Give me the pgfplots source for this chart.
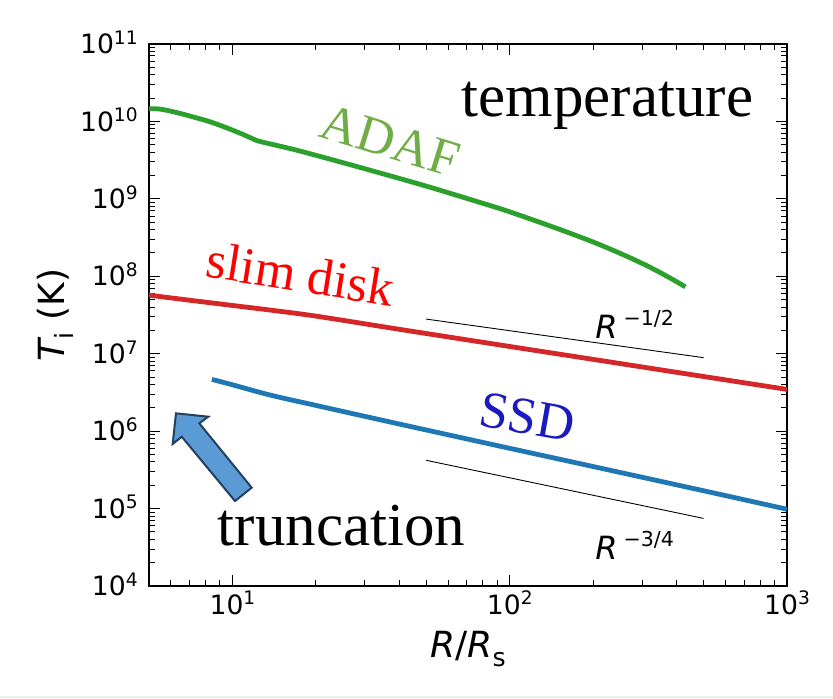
\documentclass[border=0pt]{standalone}
\usepackage{fontspec}
\setmainfont{DejaVu Sans}
\newfontfamily\tnr{Liberation Serif}
\usepackage{pgfplots}
\pgfplotsset{compat=1.18}
\definecolor{cgreen}{HTML}{2CA02C}
\definecolor{cred}{HTML}{D62728}
\definecolor{cblue}{HTML}{1F77B4}
\definecolor{adafgreen}{HTML}{70AD47}
\definecolor{ssdblue}{HTML}{1A1AC0}
\definecolor{arrowblue}{HTML}{5B9BD5}
\definecolor{arrowedge}{HTML}{25405F}
\newcommand\pw[1]{10\raisebox{0.35em}{\fontsize{9.3pt}{9.3pt}\selectfont #1}}
\begin{document}
\begin{tikzpicture}
\fill[white, use as bounding box] (-74.5pt,-56pt) rectangle (342pt,293pt);
\fill[gray!12] (-74.5pt,-56pt) rectangle (342pt,-54.8pt);
\begin{axis}[at={(0,0)}, anchor=south west,
  width=319pt, height=271pt, scale only axis,
  xmode=log, ymode=log,
  xmin=5, xmax=1000, ymin=1e4, ymax=1e11,
  xtick={10,100,1000}, xticklabels={\pw{1},\pw{2},\pw{3}},
  ytick={1e4,1e5,1e6,1e7,1e8,1e9,1e10,1e11},
  yticklabels={\pw{4},\pw{5},\pw{6},\pw{7},\pw{8},\pw{9},\pw{10},\pw{11}},
  minor xtick={6,7,8,9,20,30,40,50,60,70,80,90,200,300,400,500,600,700,800,900},
  minor ytick={2e4,3e4,4e4,5e4,6e4,7e4,8e4,9e4,2e5,3e5,4e5,5e5,6e5,7e5,8e5,9e5,2e6,3e6,4e6,5e6,6e6,7e6,8e6,9e6,2e7,3e7,4e7,5e7,6e7,7e7,8e7,9e7,2e8,3e8,4e8,5e8,6e8,7e8,8e8,9e8,2e9,3e9,4e9,5e9,6e9,7e9,8e9,9e9,2e10,3e10,4e10,5e10,6e10,7e10,8e10,9e10},
  tick align=inside,
  major tick length=5.3pt, minor tick length=2.8pt,
  every tick/.style={black, line width=0.5pt},
  axis line style={line width=0.65pt},
  ticklabel style={font=\fontsize{13.3pt}{13.3pt}\selectfont, inner sep=0pt},
  xticklabel style={anchor=base, yshift=-14pt},
  yticklabel style={anchor=base east, xshift=-5.5pt, yshift=-4.84pt},
  xlabel={{\itshape R}/{\itshape R}\raisebox{-0.25em}{\fontsize{12.6pt}{12.6pt}\selectfont s}},
  ylabel={{\itshape T}\raisebox{-0.25em}{\fontsize{12.6pt}{12.6pt}\selectfont i} (K)},
  xlabel style={font=\fontsize{18pt}{18pt}\selectfont, at={(axis description cs:0.5,-0.1328)}, anchor=base, inner sep=0pt},
  ylabel style={font=\fontsize{18pt}{18pt}\selectfont, at={(axis description cs:-0.1332,0.5)}, anchor=base, inner sep=0pt},
  clip mode=individual,
]
% ADAF
\addplot[cgreen, line width=2.4pt, smooth] coordinates {
(5,1.46e10) (5.5,1.44e10) (6.3,1.30e10) (7.3,1.13e10) (8.3,9.9e9) (9.5,8.3e9)
(10.7,7.0e9) (11.8,6.0e9) (12.6,5.5e9) (17.5,4.15e9) (30,2.45e9) (50,1.46e9)
(78,9.0e8) (100,6.8e8) (150,4.08e8) (200,2.77e8) (250,1.98e8) (300,1.47e8)
(350,1.11e8) (400,8.5e7) (430,7.3e7)
};
% slim disk
\addplot[cred, line width=2.4pt, smooth] coordinates {
(5,5.7e7) (7,4.91e7) (10,4.2e7) (13.7,3.66e7) (20,3.06e7) (40.2,2.06e7)
(100,1.24e7) (200,8.45e6) (500,5.08e6) (1000,3.46e6)
};
% SSD
\addplot[cblue, line width=2.4pt, smooth] coordinates {
(8.43,4.66e6) (10,3.97e6) (13.7,2.92e6) (20,2.15e6) (40.2,1.23e6)
(100,6.0e5) (200,3.49e5) (500,1.70e5) (1000,9.8e4)
};
% reference slopes
\addplot[black, line width=0.45pt] coordinates {(50,2.8e7) (500,8.9e6)};
\addplot[black, line width=0.45pt] coordinates {(50,4.2e5) (500,7.47e4)};
% labels
\node[anchor=base, font=\tnr\fontsize{30.5pt}{30.5pt}\selectfont] at (rel axis cs:0.7187,0.8659) {temperature};
\node[anchor=base, font=\tnr\fontsize{30.5pt}{30.5pt}\selectfont] at (rel axis cs:0.3017,0.0756) {truncation};
\node[anchor=base, rotate=-17, text=adafgreen, font=\tnr\fontsize{26pt}{26pt}\selectfont] at (rel axis cs:0.370,0.7915) {ADAF};
\node[anchor=base, rotate=-9, text=red, font=\tnr\fontsize{26pt}{26pt}\selectfont] at (rel axis cs:0.2335,0.5434) {slim disk};
\node[anchor=base, rotate=-10, text=ssdblue, font=\tnr\fontsize{26pt}{26pt}\selectfont] at (rel axis cs:0.5878,0.2804) {SSD};
\node[anchor=base west, inner sep=0pt, font=\fontsize{16pt}{16pt}\selectfont] at (rel axis cs:0.699,0.457) {{\itshape R}\hspace{3pt}\raisebox{0.415em}{\fontsize{10.3pt}{10.3pt}\selectfont −1/2}};
\node[anchor=base west, inner sep=0pt, font=\fontsize{16pt}{16pt}\selectfont] at (rel axis cs:0.699,0.048) {{\itshape R}\hspace{3pt}\raisebox{0.415em}{\fontsize{10.3pt}{10.3pt}\selectfont −3/4}};
% arrow
\filldraw[fill=arrowblue, draw=arrowedge, line width=1pt, line join=miter]
 (rel axis cs:0.0423,0.3186) -- (rel axis cs:0.0929,0.3124) -- (rel axis cs:0.0788,0.3002)
 -- (rel axis cs:0.161,0.1814) -- (rel axis cs:0.1348,0.1568) -- (rel axis cs:0.0513,0.2755)
 -- (rel axis cs:0.0371,0.262) -- cycle;
\end{axis}
\end{tikzpicture}
\end{document}
